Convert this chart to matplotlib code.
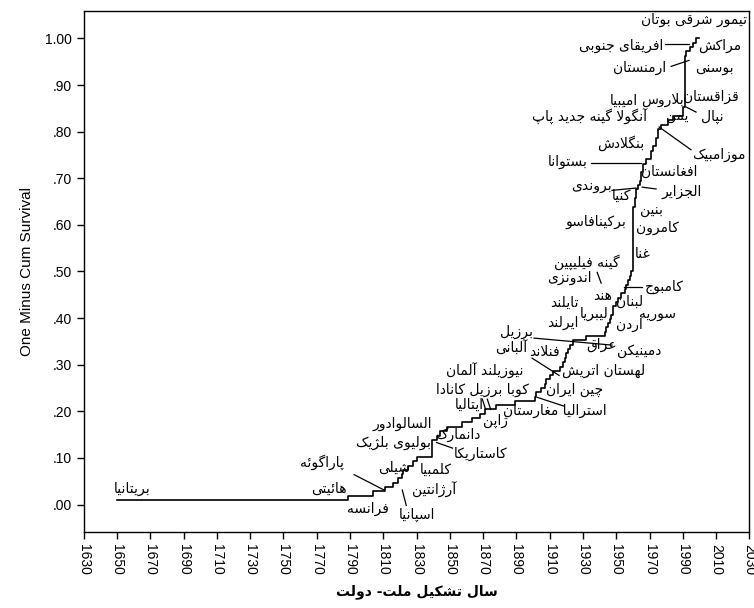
import numpy as np
import matplotlib
matplotlib.use('Agg')
import matplotlib.pyplot as plt
from matplotlib.ticker import FuncFormatter

# ---- data ----
# step points of the curve: year of the step and level after it
step_years = [1650, 1789, 1804, 1811, 1816, 1819, 1821, 1822, 1825, 1828,
              1830, 1839, 1842, 1844, 1848, 1857, 1863, 1868, 1871, 1878,
              1889, 1901, 1902, 1905, 1907, 1908, 1910, 1912, 1916, 1918,
              1919, 1920, 1921, 1922, 1924, 1932, 1943, 1944, 1945, 1946,
              1947, 1948, 1950, 1951, 1953, 1955, 1956, 1957, 1958, 1959,
              1960, 1961, 1962, 1963, 1964, 1965, 1966, 1968, 1971, 1972,
              1974, 1975, 1977, 1981, 1984, 1990, 1991, 1992, 1994, 1996,
              1998]
step_values = [0.009, 0.019, 0.028, 0.037, 0.046, 0.056, 0.065, 0.074, 0.083, 0.093,
               0.102, 0.139, 0.148, 0.157, 0.167, 0.176, 0.185, 0.194, 0.204, 0.213,
               0.222, 0.231, 0.241, 0.250, 0.259, 0.269, 0.278, 0.287, 0.296, 0.306,
               0.315, 0.324, 0.333, 0.343, 0.352, 0.361, 0.370, 0.380, 0.389, 0.398,
               0.407, 0.426, 0.435, 0.444, 0.454, 0.463, 0.472, 0.481, 0.491, 0.500,
               0.639, 0.657, 0.676, 0.685, 0.694, 0.713, 0.731, 0.741, 0.759, 0.769,
               0.787, 0.806, 0.815, 0.824, 0.833, 0.852, 0.963, 0.972, 0.981, 0.991,
               1.000]

# country labels: text, year, value
label_texts = ['بریتانیا', 'هائیتی', 'فرانسه', 'اسپانیا', 'پاراگوئه', 'آرژانتین',
               'شیلی', 'کلمبیا', 'بولیوی بلژیک', 'السالوادور', 'کاستاریکا', 'دانمارک',
               'ایتالیا', 'ژاپن', 'استرالیا مغارستان', 'چین ایران', 'کوبا برزیل کانادا',
               'نیوزیلند آلمان', 'لهستان اتریش', 'فنلاند', 'آلبانی', 'برزیل', 'عراق',
               'دمینیکن', 'اردن', 'ایرلند', 'لیبریا', 'تایلند', 'سوریه', 'هند', 'لبنان',
               'کامبوج', 'اندونزی', 'گینه فیلیپین', 'غنا', 'برکینافاسو', 'کامرون', 'بنین',
               'کنیا', 'بروندی', 'الجزایر', 'افغانستان', 'بستوانا', 'موزامبیک', 'بنگلادش',
               'یمن', 'آنگولا گینه جدید پاپ', 'نپال', 'امیبیا', 'بلاروس', 'قزاقستان',
               'ارمنستان', 'بوسنی', 'افریقای جنوبی', 'مراکش', 'تیمور شرقی بوتان']
label_years = [1659.2, 1777.5, 1800.5, 1830.5, 1773.3, 1840.5,
               1816.5, 1841.7, 1815.9, 1821.3, 1868.7, 1855.0,
               1861.5, 1877.7, 1913.2, 1924.7, 1869.4,
               1870.7, 1942.1, 1906.6, 1886.8, 1889.8, 1940.9,
               1963.7, 1957.7, 1918.0, 1936.5, 1918.8, 1974.5, 1941.5, 1957.7,
               1978.7, 1921.7, 1932.5, 1966.1, 1937.9, 1974.5, 1970.9,
               1952.9, 1934.9, 1989.5, 1981.7, 1920.5, 2011.7, 1952.9,
               1986.5, 1933.7, 2007.5, 1954.6, 1977.5, 2006.9,
               1963.7, 2008.7, 1952.9, 2012.0, 1997.0]
label_values = [0.033, 0.034, -0.009, -0.023, 0.090, 0.031,
                0.078, 0.074, 0.132, 0.174, 0.108, 0.149,
                0.214, 0.179, 0.200, 0.245, 0.245,
                0.286, 0.286, 0.327, 0.335, 0.370, 0.342,
                0.329, 0.385, 0.389, 0.408, 0.432, 0.408, 0.447, 0.434,
                0.466, 0.486, 0.520, 0.537, 0.606, 0.593, 0.632,
                0.662, 0.683, 0.670, 0.713, 0.735, 0.750, 0.775,
                0.833, 0.831, 0.831, 0.867, 0.869, 0.875,
                0.936, 0.936, 0.985, 0.985, 1.039]

# leader lines: (year0, value0, year1, value1)
leaders = [(1792.5, 0.064, 1810.5, 0.031),
           (1821.4, 0.031, 1823.8, -0.002),
           (1842.0, 0.133, 1851.6, 0.121),
           (1869.5, 0.226, 1871.5, 0.204),
           (1872.5, 0.226, 1874.5, 0.204),
           (1902.4, 0.230, 1918.6, 0.211),
           (1899.4, 0.314, 1915.6, 0.277),
           (1900.6, 0.357, 1947.4, 0.342),
           (1954.6, 0.466, 1965.5, 0.466),
           (1938.5, 0.498, 1940.9, 0.475),
           (1947.4, 0.674, 1961.8, 0.679),
           (1965.5, 0.681, 1973.9, 0.677),
           (1934.9, 0.733, 1964.9, 0.733),
           (1994.9, 0.761, 1975.7, 0.810),
           (1997.9, 0.842, 1991.9, 0.853),
           (1982.9, 0.940, 1993.7, 0.953),
           (1979.3, 0.988, 1993.7, 0.988)]

x_ticks = np.arange(1630, 2031, 20)
y_ticks = np.arange(0, 1.01, 0.1)

# ---- minimal Persian shaping (matplotlib does no Arabic joining) ----
# letter: (isolated, final, initial, medial); None = does not join forward
FORMS = {
    'ا': (0xFE8D, 0xFE8E, None, None), 'آ': (0xFE81, 0xFE82, None, None),
    'ب': (0xFE8F, 0xFE90, 0xFE91, 0xFE92), 'پ': (0xFB56, 0xFB57, 0xFB58, 0xFB59),
    'ت': (0xFE95, 0xFE96, 0xFE97, 0xFE98), 'ث': (0xFE99, 0xFE9A, 0xFE9B, 0xFE9C),
    'ج': (0xFE9D, 0xFE9E, 0xFE9F, 0xFEA0), 'چ': (0xFB7A, 0xFB7B, 0xFB7C, 0xFB7D),
    'ح': (0xFEA1, 0xFEA2, 0xFEA3, 0xFEA4), 'خ': (0xFEA5, 0xFEA6, 0xFEA7, 0xFEA8),
    'د': (0xFEA9, 0xFEAA, None, None), 'ذ': (0xFEAB, 0xFEAC, None, None),
    'ر': (0xFEAD, 0xFEAE, None, None), 'ز': (0xFEAF, 0xFEB0, None, None),
    'ژ': (0xFB8A, 0xFB8B, None, None),
    'س': (0xFEB1, 0xFEB2, 0xFEB3, 0xFEB4), 'ش': (0xFEB5, 0xFEB6, 0xFEB7, 0xFEB8),
    'ص': (0xFEB9, 0xFEBA, 0xFEBB, 0xFEBC), 'ض': (0xFEBD, 0xFEBE, 0xFEBF, 0xFEC0),
    'ط': (0xFEC1, 0xFEC2, 0xFEC3, 0xFEC4), 'ظ': (0xFEC5, 0xFEC6, 0xFEC7, 0xFEC8),
    'ع': (0xFEC9, 0xFECA, 0xFECB, 0xFECC), 'غ': (0xFECD, 0xFECE, 0xFECF, 0xFED0),
    'ف': (0xFED1, 0xFED2, 0xFED3, 0xFED4), 'ق': (0xFED5, 0xFED6, 0xFED7, 0xFED8),
    'ک': (0xFB8E, 0xFB8F, 0xFB90, 0xFB91), 'گ': (0xFB92, 0xFB93, 0xFB94, 0xFB95),
    'ل': (0xFEDD, 0xFEDE, 0xFEDF, 0xFEE0), 'م': (0xFEE1, 0xFEE2, 0xFEE3, 0xFEE4),
    'ن': (0xFEE5, 0xFEE6, 0xFEE7, 0xFEE8), 'و': (0xFEED, 0xFEEE, None, None),
    'ه': (0xFEE9, 0xFEEA, 0xFEEB, 0xFEEC), 'ی': (0xFBFC, 0xFBFD, 0xFBFE, 0xFBFF),
    'ئ': (0xFE89, 0xFE8A, 0xFE8B, 0xFE8C),
}
LAM_ALEF = {'ا': (0xFEFB, 0xFEFC), 'آ': (0xFEF5, 0xFEF6)}


def shape(text):
    chars = list(text)
    out = []
    i = 0
    while i < len(chars):
        c = chars[i]
        if c not in FORMS:
            out.append(c)
            i += 1
            continue
        prev = chars[i - 1] if i > 0 else None
        joins_prev = prev in FORMS and FORMS[prev][2] is not None
        nxt = chars[i + 1] if i + 1 < len(chars) else None
        if c == 'ل' and nxt in LAM_ALEF:
            out.append(chr(LAM_ALEF[nxt][1 if joins_prev else 0]))
            i += 2
            continue
        joins_next = nxt in FORMS and FORMS[c][2] is not None
        iso, fin, ini, med = FORMS[c]
        if joins_prev and joins_next:
            code = med
        elif joins_prev:
            code = fin
        elif joins_next:
            code = ini
        else:
            code = iso
        out.append(chr(code))
        i += 1
    return ''.join(reversed(out))


fa_font = 'DejaVu Sans'
plt.rcParams['font.family'] = ['Liberation Sans', 'DejaVu Sans']

fig = plt.figure(figsize=(7.54, 6.08), dpi=100)
ax = fig.add_axes([0.111, 0.125, 0.883, 0.857])

ax.plot(step_years + [step_years[-1] + 1.5], step_values + [step_values[-1]],
        drawstyle='steps-post', color='black', lw=1.2)

for x0, y0, x1, y1 in leaders:
    ax.plot([x0, x1], [y0, y1], color='black', lw=0.9)

for txt, lx, ly in zip(label_texts, label_years, label_values):
    ax.text(lx, ly, shape(txt), fontsize=10, family=fa_font,
            ha='center', va='center')

ax.set_xlim(1630, 2030)
ax.set_ylim(-0.059, 1.059)
ax.set_xticks(x_ticks)
ax.set_yticks(y_ticks)
ax.yaxis.set_major_formatter(FuncFormatter(
    lambda v, p: ('%.2f' % v).replace('0.', '.', 1) if v < 0.995 else '%.2f' % v))
ax.tick_params(axis='both', direction='out', length=5, width=1, labelsize=10,
               colors='black')
ax.tick_params(axis='x', labelrotation=270)
for s in ax.spines.values():
    s.set_linewidth(1.0)

ax.set_ylabel('One Minus Cum Survival', fontsize=11, labelpad=8)
ax.set_xlabel(shape('سال تشکیل ملت- دولت'), fontsize=10, fontweight='bold',
              family=fa_font, labelpad=7)

fig.savefig('out.png', dpi=100)
